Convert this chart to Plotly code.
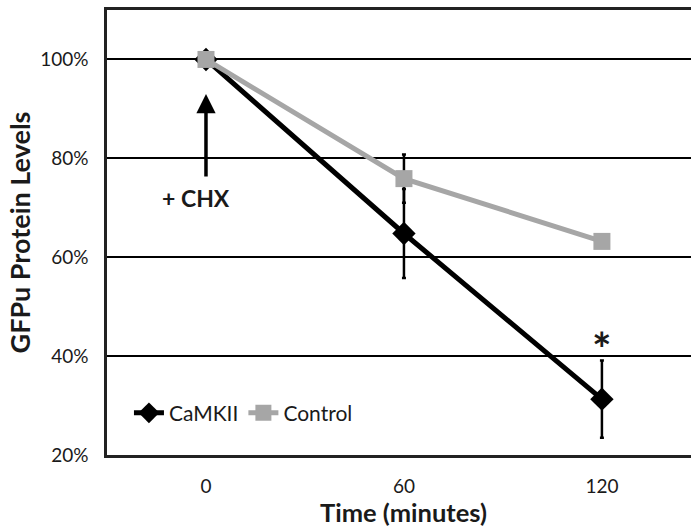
import plotly.graph_objects as go

times = [0, 60, 120]
camkii = [100, 64.8, 31.3]
camkii_err = [0, 9.0, 7.8]
control = [100, 75.9, 63.2]
control_err = [0, 4.9, 0]
y_ticks = [20, 40, 60, 80, 100]
y_tick_labels = ["20%", "40%", "60%", "80%", "100%"]
x_ticks = [0, 60, 120]
x_tick_labels = ["0", "60", "120"]

FONT = "Lato, Open Sans, sans-serif"
TXT = "#1a1a1a"

fig = go.Figure()
fig.add_trace(go.Scatter(
    x=times, y=camkii, name="CaMKII", mode="lines+markers",
    line=dict(color="black", width=5),
    marker=dict(symbol="diamond", size=18, color="black"),
    error_y=dict(type="data", array=camkii_err, visible=True, color="black", thickness=2.5, width=2),
))
fig.add_trace(go.Scatter(
    x=times, y=control, name="Control", mode="lines+markers",
    line=dict(color="#a6a6a6", width=5),
    marker=dict(symbol="square", size=17, color="#a6a6a6"),
    error_y=dict(type="data", array=control_err, visible=True, color="black", thickness=2.5, width=2),
))

fig.add_annotation(x=0, y=93, ax=0, ay=76, xref="x", yref="y", axref="x", ayref="y",
                   showarrow=True, arrowhead=2, arrowsize=1.1, arrowwidth=3.5, arrowcolor="black", text="")
fig.add_annotation(x=-3, y=72, xref="x", yref="y", text="<b>+ CHX</b>", showarrow=False,
                   font=dict(family=FONT, size=23, color=TXT))
fig.add_annotation(x=120, y=41.5, xref="x", yref="y", text="<b>*</b>", showarrow=False,
                   font=dict(family=FONT, size=46, color=TXT))
fig.add_annotation(x=0.508, y=-0.127, xref="paper", yref="paper", yanchor="middle",
                   text="<b>Time (minutes)</b>", showarrow=False,
                   font=dict(family=FONT, size=25.5, color=TXT))

fig.update_layout(
    width=691, height=526,
    margin=dict(l=107, r=0, t=10, b=71),
    plot_bgcolor="white", paper_bgcolor="white",
    font=dict(family=FONT, color=TXT),
    showlegend=True,
    legend=dict(x=0.0376, y=0.094, xanchor="left", yanchor="middle", orientation="h",
                font=dict(family=FONT, size=21, color=TXT), bgcolor="rgba(0,0,0,0)",
                itemwidth=30, tracegroupgap=0),
)
fig.update_xaxes(range=[-30, 147], tickvals=x_ticks, ticktext=x_tick_labels, automargin=False,
                 showgrid=False, zeroline=False, showline=True, linecolor="#222", linewidth=2.5, mirror=True,
                 ticks="", ticklabelstandoff=12, tickfont=dict(family=FONT, size=19, color=TXT))
fig.update_yaxes(range=[20, 110], tickvals=y_ticks, ticktext=y_tick_labels, automargin=False,
                 showgrid=True, gridcolor="black", gridwidth=2, zeroline=False,
                 showline=True, linecolor="#222", linewidth=2.5, mirror=False,
                 ticks="", ticklabelstandoff=12, tickfont=dict(family=FONT, size=19, color=TXT),
                 title=dict(text="<b>GFPu Protein Levels</b>", font=dict(family=FONT, size=27, color=TXT), standoff=2))

fig.write_html("out.html", config={"displayModeBar": False},
               post_script="document.body.style.margin='0';document.body.style.overflow='hidden';")
